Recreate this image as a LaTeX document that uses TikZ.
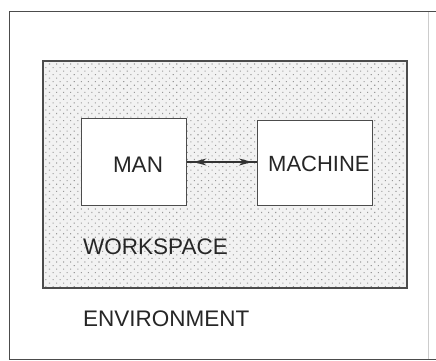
\documentclass[tikz,border=0pt]{standalone}
\usepackage{fontspec}
\setmainfont{Liberation Sans}
\usetikzlibrary{patterns.meta,arrows.meta}

\tikzset{
  frameline/.style={line width=1.4pt, draw=black!70},
  boxnode/.style={frameline, fill=white, inner sep=0pt, anchor=north west},
  lbl/.style={inner sep=0pt, text=black!85, font=\fontsize{22.5}{24}\selectfont},
  link/.style={line width=1.3pt, draw=black!80},
  tips/.style={link, {Stealth[length=13pt,width=7pt]}-{Stealth[length=13pt,width=7pt]}}
}

\begin{document}
\begin{tikzpicture}[x=1pt,y=-1pt]
  \useasboundingbox (0,0) rectangle (436,361);

  % environment frame (right side barely visible)
  \draw[line width=1pt, draw=black!20] (428,11.5) -- (428,359.5);
  \draw[frameline] (436,11.5) -- (9.5,11.5) -- (9.5,359.5) -- (436,359.5);

  % stippled workspace area
  \fill[black!5] (43,61) rectangle (407,288);
  \fill[pattern={Dots[distance=5pt, radius=0.75pt, angle=45]}, pattern color=black!40]
    (43,61) rectangle (407,288);
  \draw[frameline] (43,61) rectangle (407,288);

  % the two boxes
  \node[boxnode, minimum width=105pt, minimum height=87pt] (manbox) at (81,118) {};
  \node[boxnode, minimum width=115pt, minimum height=85pt] (machbox) at (257,120) {};

  \node[lbl] (mantext) at (138,165) {MAN};
  \node[lbl, anchor=west, font=\fontsize{22}{24}\selectfont] (machtext) at (268,164) {MACHINE};

  % connector between the boxes
  \coordinate (mend) at (manbox.east |- 0,162);
  \coordinate (cend) at (machbox.west |- 0,162);
  \draw[link] (mend) -- (cend);
  \draw[tips, shorten <=6pt, shorten >=5pt] (mend) -- (cend);

  \node[lbl, anchor=west] (wstext) at (83,247) {WORKSPACE};
  \node[lbl, anchor=west] (envtext) at (83,319) {ENVIRONMENT};
\end{tikzpicture}
\end{document}
